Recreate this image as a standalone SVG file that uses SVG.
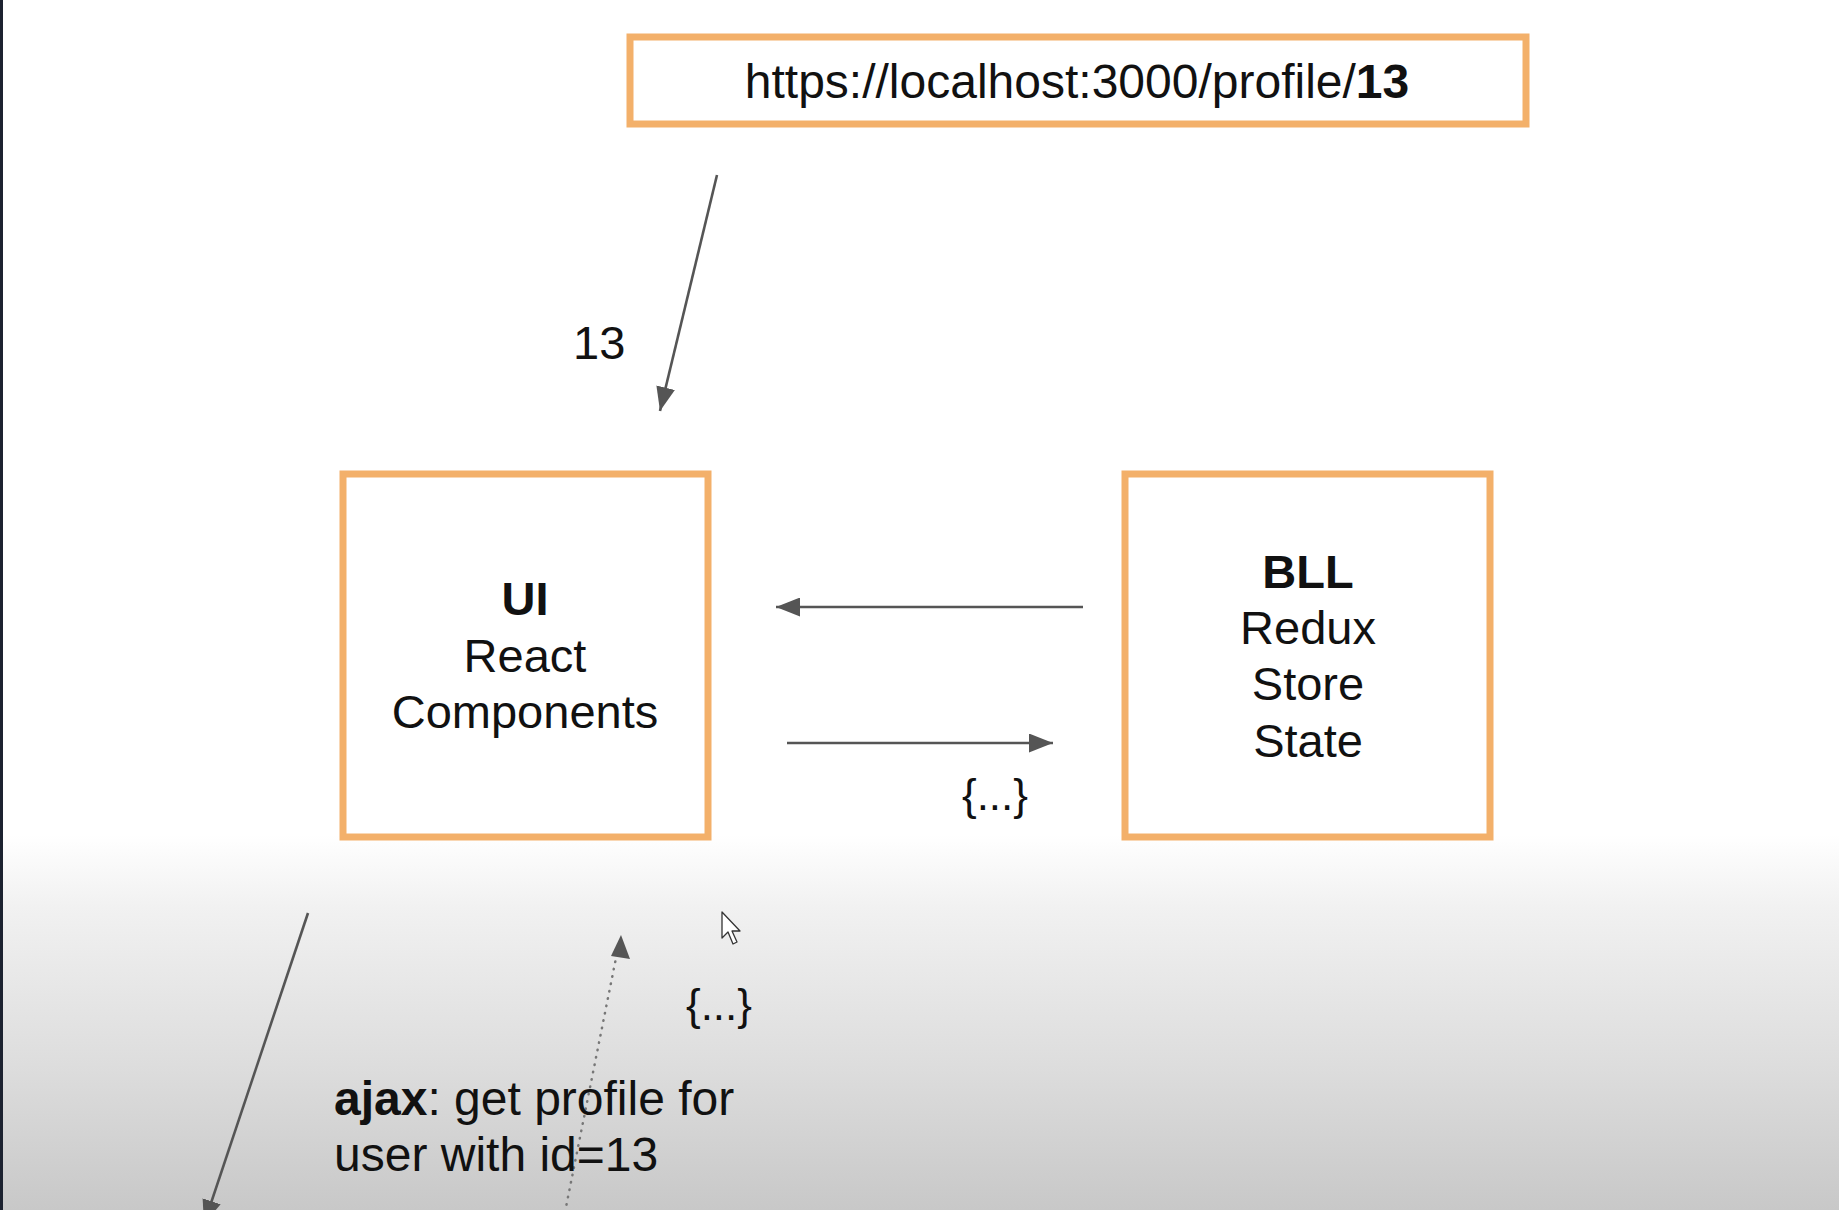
<svg xmlns="http://www.w3.org/2000/svg" width="1839" height="1210" viewBox="0 0 1839 1210">
  <defs>
    <linearGradient id="bg" x1="0" y1="0" x2="0" y2="1210" gradientUnits="userSpaceOnUse">
      <stop offset="0" stop-color="#ffffff"/>
      <stop offset="0.69" stop-color="#ffffff"/>
      <stop offset="0.75" stop-color="#f1f1f1"/>
      <stop offset="0.88" stop-color="#dddddd"/>
      <stop offset="1" stop-color="#c8c8c8"/>
    </linearGradient>
    <marker id="ah" markerWidth="24" markerHeight="19" refX="24" refY="9.5" orient="auto" markerUnits="userSpaceOnUse">
      <path d="M0,0 L24,9.5 L0,19 z" fill="#555555"/>
    </marker>
    <style>
      .box { fill: #ffffff; stroke: #f3b06a; stroke-width: 7; }
      .t { font-family: "Liberation Sans", Arial, sans-serif; fill: #111111; }
      .c { text-anchor: middle; }
      .b { font-weight: bold; }
      .arrow { stroke: #555555; stroke-width: 2.6; fill: none; marker-end: url(#ah); }
      .dot { stroke: #777777; stroke-width: 2.5; stroke-linecap: round; stroke-dasharray: 0.5 7; fill: none; }
    </style>
  </defs>

  <rect x="0" y="0" width="1839" height="1210" fill="url(#bg)"/>
  <rect x="0" y="0" width="3" height="1210" fill="#1c2230"/>

  <g id="url">
    <rect class="box" x="630" y="37" width="896" height="87"/>
    <text class="t c" x="1077" y="98" font-size="48">https://localhost:3000/profile/<tspan class="b">13</tspan></text>
  </g>

  <g id="ui">
    <rect class="box" x="343" y="474" width="365" height="363"/>
    <text class="t c b" x="525" y="615" font-size="47">UI</text>
    <text class="t c" x="525" y="672" font-size="47">React</text>
    <text class="t c" x="525" y="728" font-size="47">Components</text>
  </g>

  <g id="bll">
    <rect class="box" x="1125" y="474" width="365" height="363"/>
    <text class="t c b" x="1308" y="588" font-size="47">BLL</text>
    <text class="t c" x="1308" y="644" font-size="47">Redux</text>
    <text class="t c" x="1308" y="700" font-size="47">Store</text>
    <text class="t c" x="1308" y="757" font-size="47">State</text>
  </g>

  <g id="connectors">
    <line class="arrow" x1="717" y1="175" x2="660" y2="411"/>
    <line class="arrow" x1="1083" y1="607" x2="776" y2="607"/>
    <line class="arrow" x1="787" y1="743" x2="1053" y2="743"/>
    <line class="arrow" x1="308" y1="913" x2="204" y2="1224"/>
    <line class="dot" x1="565" y1="1212" x2="616" y2="958"/>
    <path d="M621,935 L630,959 L611,956 Z" fill="#555555"/>
  </g>

  <g id="labels">
    <text class="t" x="573" y="359" font-size="47">13</text>
    <text class="t c" x="995" y="810" font-size="44">{...}</text>
    <text class="t c" x="719" y="1020" font-size="44">{...}</text>
    <text class="t" x="334" y="1115" font-size="48"><tspan class="b">ajax</tspan>: get profile for</text>
    <text class="t" x="334" y="1171" font-size="48">user with id=13</text>
  </g>

  <g id="cursor">
    <path d="M722,912 L722,938 L728,932 L733,944 L737,942 L732,931 L740,931 Z" fill="#ffffff" stroke="#333333" stroke-width="1.3" stroke-linejoin="round"/>
  </g>
</svg>
